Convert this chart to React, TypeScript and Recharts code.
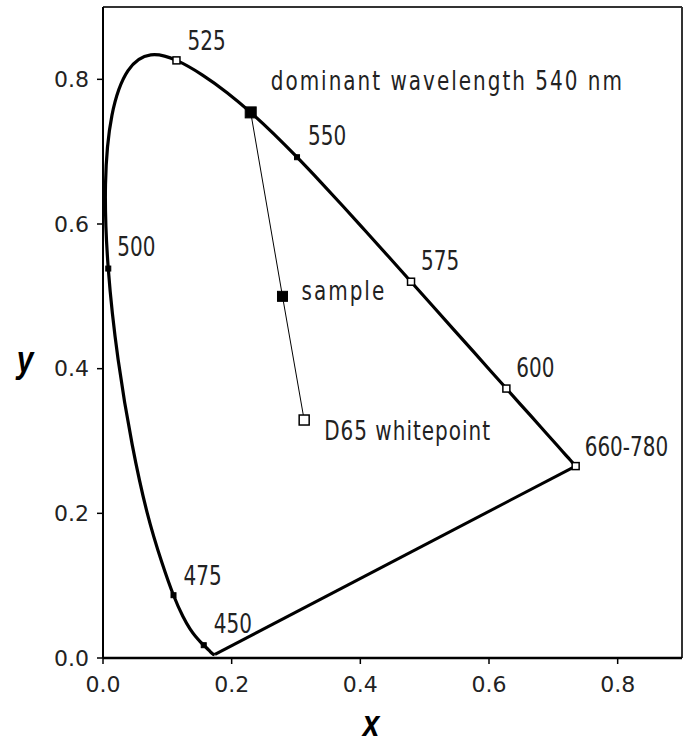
import { ScatterChart, Scatter, XAxis, YAxis, ReferenceLine } from "recharts";

// CIE 1931 spectral locus
const wavelengths = [380, 385, 390, 395, 400, 405, 410, 415, 420, 425, 430, 435, 440, 445, 450, 455, 460, 465, 470, 475, 480, 485, 490, 495, 500, 505, 510, 515, 520, 525, 530, 535, 540, 545, 550, 555, 560, 565, 570, 575, 580, 585, 590, 595, 600, 605, 610, 615, 620, 625, 630, 635, 640, 645, 650, 655, 660, 670, 680, 700];
const locusX = [0.1741, 0.174, 0.1738, 0.1736, 0.1733, 0.173, 0.1726, 0.1721, 0.1714, 0.1703, 0.1689, 0.1669, 0.1644, 0.1611, 0.1566, 0.151, 0.144, 0.1355, 0.1241, 0.1096, 0.0913, 0.0687, 0.0454, 0.0235, 0.0082, 0.0039, 0.0139, 0.0389, 0.0743, 0.1142, 0.1547, 0.1929, 0.2296, 0.2658, 0.3016, 0.3373, 0.3731, 0.4087, 0.4441, 0.4788, 0.5125, 0.5448, 0.5752, 0.6029, 0.627, 0.6482, 0.6658, 0.6801, 0.6915, 0.7006, 0.7079, 0.714, 0.719, 0.723, 0.726, 0.7283, 0.73, 0.732, 0.7334, 0.7347];
const locusY = [0.005, 0.005, 0.0049, 0.0049, 0.0048, 0.0048, 0.0048, 0.0048, 0.0051, 0.0058, 0.0069, 0.0086, 0.0109, 0.0138, 0.0177, 0.0227, 0.0297, 0.0399, 0.0578, 0.0868, 0.1327, 0.2007, 0.295, 0.4127, 0.5384, 0.6548, 0.7502, 0.812, 0.8338, 0.8262, 0.8059, 0.7816, 0.7543, 0.7243, 0.6923, 0.6589, 0.6245, 0.5896, 0.5547, 0.5202, 0.4866, 0.4544, 0.4242, 0.3965, 0.3725, 0.3514, 0.334, 0.3197, 0.3083, 0.2993, 0.292, 0.2859, 0.2809, 0.277, 0.274, 0.2717, 0.27, 0.268, 0.2666, 0.2653];

const markWavelengths = [450, 475, 500, 525, 540, 550, 575, 600, 700];
const markNames = ["450", "475", "500", "525", "dominant wavelength 540 nm", "550", "575", "600", "660-780"];

const samplePoint = { x: 0.279, y: 0.5 };
const whitePoint = { x: 0.3127, y: 0.329 };

const ticks = [0, 0.2, 0.4, 0.6, 0.8];

const locus = wavelengths.map((w, i) => ({ w, x: locusX[i], y: locusY[i] }));
// line of purples: the straight line joining both ends of the locus
const purples = [locus[locus.length - 1], locus[0]];
const at = (w: number) => locus.find((p) => p.w === w)!;
const marks = markWavelengths.map((w, i) => ({ x: at(w).x, y: at(w).y, name: markNames[i] }));
const sampleLine = [at(540), samplePoint, whitePoint];
const extras = [
  { ...samplePoint, name: "sample" },
  { ...whitePoint, name: "D65 whitepoint" },
];

const look: Record<string, { s: number; fill: string; sw: number; dx: number; dy: number; ls: number }> = {
  "450": { s: 5, fill: "#000", sw: 1, dx: 10, dy: -22, ls: 0 },
  "475": { s: 5, fill: "#000", sw: 1, dx: 10, dy: -20, ls: 0 },
  "500": { s: 5, fill: "#000", sw: 1, dx: 9, dy: -22, ls: 0 },
  "525": { s: 7, fill: "#fff", sw: 1.5, dx: 11, dy: -20, ls: 0 },
  "dominant wavelength 540 nm": { s: 11, fill: "#000", sw: 1, dx: 20, dy: -32, ls: 2 },
  "550": { s: 5, fill: "#000", sw: 1, dx: 11, dy: -22, ls: 0 },
  "575": { s: 7, fill: "#fff", sw: 1.5, dx: 10, dy: -21, ls: 0 },
  "600": { s: 7, fill: "#fff", sw: 1.5, dx: 10, dy: -21, ls: 0 },
  "660-780": { s: 7, fill: "#fff", sw: 1.5, dx: 9, dy: -20, ls: 0 },
  sample: { s: 10, fill: "#000", sw: 1, dx: 19, dy: -6, ls: 2 },
  "D65 whitepoint": { s: 10, fill: "#fff", sw: 1.5, dx: 20, dy: 10, ls: 1 },
};

const font = "'DejaVu Sans', sans-serif";
const titleFont = "'Liberation Sans', sans-serif";

function Marker(props: any) {
  const { cx, cy, payload } = props;
  const m = look[payload.name];
  return (
    <g>
      <rect x={cx - m.s / 2} y={cy - m.s / 2} width={m.s} height={m.s} fill={m.fill} stroke="#000" strokeWidth={m.sw} />
      <text
        transform={`translate(${cx + m.dx} ${cy + m.dy}) scale(1 1.3)`}
        x={0}
        y={0}
        dominantBaseline="central"
        fontFamily={font}
        fontSize={20}
        letterSpacing={m.ls}
        fill="#222"
      >
        {payload.name}
      </text>
    </g>
  );
}

const none = () => <g />;

export default function App() {
  return (
    <div style={{ position: "absolute", left: 0, top: 0, background: "#fff" }}>
      <ScatterChart width={683} height={744} margin={{ top: 7, right: 1, left: 0, bottom: 0 }}>
        <XAxis
          type="number"
          dataKey="x"
          domain={[0, 0.9]}
          ticks={ticks}
          tickFormatter={(v) => v.toFixed(1)}
          tick={{ fontSize: 22, fill: "#222", fontFamily: font }}
          tickSize={6}
          tickMargin={12}
          axisLine={{ stroke: "#000", strokeWidth: 2.5 }}
          tickLine={{ stroke: "#000", strokeWidth: 1.5 }}
          height={86}
          label={{
            content: (p: any) => (
              <text
                transform={`translate(${p.viewBox.x + 268} ${p.viewBox.y + 78}) scale(1 1.2)`}
                fontFamily={titleFont}
                fontWeight="bold"
                fontStyle="italic"
                fontSize={30}
                fill="#000"
                textAnchor="middle"
              >
                x
              </text>
            ),
          }}
        />
        <YAxis
          type="number"
          dataKey="y"
          domain={[0, 0.9]}
          ticks={ticks}
          tickFormatter={(v) => v.toFixed(1)}
          tick={{ fontSize: 22, fill: "#222", fontFamily: font }}
          tickSize={6}
          tickMargin={8}
          axisLine={{ stroke: "#000", strokeWidth: 2 }}
          tickLine={{ stroke: "#000", strokeWidth: 1.5 }}
          width={103}
          label={{
            content: () => (
              <text
                transform="translate(25 372) scale(1 1.2)"
                fontFamily={titleFont}
                fontWeight="bold"
                fontStyle="italic"
                fontSize={30}
                fill="#000"
                textAnchor="middle"
              >
                y
              </text>
            ),
          }}
        />
        <ReferenceLine y={0.9} stroke="#333" strokeWidth={2} />
        <ReferenceLine x={0.9} stroke="#333" strokeWidth={2} />
        <Scatter data={locus} line={{ stroke: "#000", strokeWidth: 3.2 }} lineJointType="natural" shape={none} isAnimationActive={false} />
        <Scatter data={purples} line={{ stroke: "#000", strokeWidth: 3 }} shape={none} isAnimationActive={false} />
        <Scatter data={sampleLine} line={{ stroke: "#000", strokeWidth: 1 }} shape={none} isAnimationActive={false} />
        <Scatter data={marks} shape={Marker} isAnimationActive={false} />
        <Scatter data={extras} shape={Marker} isAnimationActive={false} />
      </ScatterChart>
    </div>
  );
}
